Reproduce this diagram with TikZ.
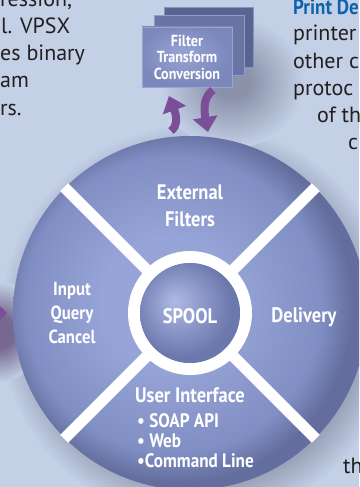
\documentclass[tikz,border=0pt]{standalone}
\usepackage{fontspec}
\setmainfont{PT Sans}
\newfontfamily\wheelfont{PT Sans}[FakeStretch=0.88]
\usetikzlibrary{arrows.meta,bending}
\definecolor{bg}{HTML}{C3D0E6}
\definecolor{ink}{HTML}{231F20}
\definecolor{headblue}{HTML}{0E64AC}
\definecolor{wheelA}{HTML}{96A4D7}
\definecolor{wheelB}{HTML}{808EC3}
\definecolor{wheelC}{HTML}{646E9E}
\definecolor{spoolA}{HTML}{AEB9E6}
\definecolor{spoolB}{HTML}{6C78AC}
\definecolor{haze}{HTML}{8A92AA}
\definecolor{purplehaze}{HTML}{76688F}
\definecolor{arrowpurple}{HTML}{7B4F98}
\definecolor{boxback}{HTML}{5A6490}
\definecolor{boxmid}{HTML}{6A75A5}
\definecolor{boxfront}{HTML}{7C88BC}
\definecolor{boxlight}{HTML}{98A4D4}

% shadings: 25bp is the edge of the shaded path
\pgfdeclareradialshading{wheelshade}{\pgfpoint{-4bp}{2bp}}{color(0bp)=(wheelA); color(9bp)=(wheelA); color(21bp)=(wheelB); color(25bp)=(wheelC); color(50bp)=(wheelC)}
\pgfdeclareradialshading{spoolshade}{\pgfpoint{-8bp}{6bp}}{color(0bp)=(spoolA); color(25bp)=(spoolB); color(50bp)=(spoolB)}
\pgfdeclareradialshading{haloshade}{\pgfpoint{0bp}{0bp}}{color(0bp)=(haze); color(19bp)=(haze); color(25bp)=(bg); color(50bp)=(bg)}
\pgfdeclareradialshading{softshade}{\pgfpoint{0bp}{0bp}}{color(0bp)=(haze); color(6bp)=(haze); color(25bp)=(bg); color(50bp)=(bg)}
\pgfdeclareradialshading{purpleshade}{\pgfpoint{0bp}{0bp}}{color(0bp)=(purplehaze); color(8bp)=(purplehaze); color(25bp)=(bg); color(50bp)=(bg)}
\pgfdeclareradialshading{boxshade}{\pgfpoint{-3bp}{3bp}}{color(0bp)=(boxlight); color(25bp)=(boxfront); color(50bp)=(boxfront)}

\begin{document}
\begin{tikzpicture}[x=1pt,y=-1pt,
  spoke/.style={white,line width=11pt},
  wheellabel/.style={text=white,inner sep=0pt,align=center,
    font=\wheelfont\bfseries\fontsize{21}{27}\selectfont},
  filterbox/.style={shade,shading=boxshade,draw=boxlight,line width=0.6pt,
    minimum width=90pt,minimum height=60pt,inner sep=0pt,align=center,text=white,
    font=\wheelfont\bfseries\fontsize{16}{16.5}\selectfont},
  bodytext/.style={text=ink,inner sep=0pt,anchor=base west,
    font=\fontsize{22}{27}\selectfont},
  flowarrow/.style={arrowpurple,line width=8pt,-{Triangle[width=24pt,length=15pt,bend]}}]
  \useasboundingbox (0,0) rectangle (359,487);
  \clip (0,0) rectangle (359,487);
  \fill[bg] (0,0) rectangle (359,487);

  % soft shadows behind wheel and boxes
  \coordinate (hub) at (190,313);
  \shade[shading=haloshade] (198,323) circle (200);
  \shade[shading=purpleshade] (0,332) ellipse (42 and 50);
  \shade[shading=softshade] (232,82) ellipse (72 and 66);
  \fill[arrowpurple] (-4,302) -- (7,313) -- (-4,324) -- cycle;

  % wheel
  \shade[shading=wheelshade] (hub) circle (177);
  \foreach \ang in {45,135,225,315}
    \draw[spoke] (hub) ++(\ang:56) -- ++(\ang:122);
  \draw[white,line width=12pt] (hub) circle (56);
  \shade[shading=spoolshade] (hub) circle (50);

  \node[wheellabel] (external) at (190,206) {External\\Filters};
  \node[wheellabel,anchor=base] (spool) at (190,323) {SPOOL};
  \node[wheellabel,anchor=base] (delivery) at (304,322) {Delivery};
  \node[wheellabel,font=\wheelfont\bfseries\fontsize{19}{24}\selectfont] (input) at (72,313) {Input\\Query\\Cancel};
  \node[wheellabel,anchor=base] (userif) at (190,402) {User Interface};
  \node[wheellabel,align=left,anchor=west,font=\wheelfont\bfseries\fontsize{19.5}{20}\selectfont]
    (uilist) at (137,441) {• SOAP API\\• Web\\•Command Line};

  % stacked filter boxes
  \fill[boxback] (164,7) rectangle (253,67);
  \draw[boxlight!70!boxback,line width=0.6pt] (164,7) rectangle (253,67);
  \fill[boxmid] (154,15) rectangle (244,75);
  \draw[boxlight!80!boxmid,line width=0.6pt] (154,15) rectangle (244,75);
  \node[filterbox] (filter) at (187,57) {Filter\\Transform\\Conversion};

  % arrows between boxes and wheel
  \coordinate (upfoot) at (171,131);
  \coordinate (uptip) at (169,96);
  \coordinate (downtop) at (213,90);
  \coordinate (downtip) at (208,132);
  \draw[flowarrow] (upfoot) .. controls (182,122) and (173,108) .. (uptip);
  \draw[flowarrow] (downtop) .. controls (200,100) and (205,116) .. (downtip);

  % surrounding body text
  \node[bodytext] (left1) at (0,7) {ression,};
  \node[bodytext] (left2) at (1,34) {l. VPSX};
  \node[bodytext] (left3) at (0,61) {es binary};
  \node[bodytext] (left4) at (0,88) {am};
  \node[bodytext] (left5) at (0,115) {rs.};
  \node[bodytext,text=headblue,font=\wheelfont\bfseries\fontsize{21.5}{27}\selectfont] (right0) at (293,15) {Print De};
  \node[bodytext] (right1) at (293,41) {printer};
  \node[bodytext] (right2) at (293,68) {other c};
  \node[bodytext] (right3) at (293,95) {protoc};
  \node[bodytext] (right4) at (317,122) {of th};
  \node[bodytext] (right5) at (348,149) {c};
  \node[bodytext] (bottom1) at (343,473) {th};
\end{tikzpicture}
\end{document}
